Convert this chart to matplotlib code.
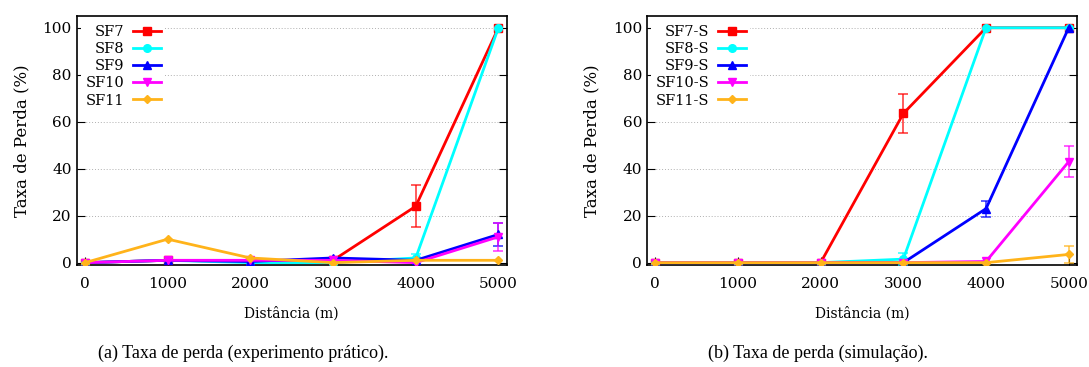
import matplotlib
matplotlib.use("Agg")
import matplotlib.pyplot as plt

# data
distancias = [0, 1000, 2000, 3000, 4000, 5000]

# (a) experimento pratico
sf7 = [0, 1, 0.5, 1, 24, 100]
sf8 = [0, 1, 0, 0, 2, 100]
sf9 = [0, 1, 0.5, 2, 1, 12]
sf10 = [0, 1, 1, 1, 0, 11]
sf11 = [0, 10, 2, 0, 1, 1]
sf7_err = [0, 0, 0, 0, 9, 0]
sf8_err = [0, 0, 0, 0, 1.5, 0]
sf9_err = [0, 0, 0, 0, 0, 5]
sf10_err = [0, 0, 0, 0, 0, 6]
sf11_err = [0, 0, 0, 0, 0, 0]

# (b) simulacao
sf7_s = [0, 0, 0, 63.5, 100, 100]
sf8_s = [0, 0, 0, 1.5, 100, 100]
sf9_s = [0, 0, 0, 0, 23, 100]
sf10_s = [0, 0, 0, 0, 0.5, 43]
sf11_s = [0, 0, 0, 0, 0, 3.5]
sf7_s_err = [0, 0, 0, 8.5, 0, 0]
sf8_s_err = [0, 0, 0, 2.5, 0, 0]
sf9_s_err = [0, 0, 0, 0, 3.4, 0]
sf10_s_err = [0, 0, 0, 0, 0, 6.7]
sf11_s_err = [0, 0, 0, 0, 0, 3.5]

cores = ["#ff0000", "#00ffff", "#0000ff", "#ff00ff", "#ffb31a"]
marcadores = ["s", "o", "^", "v", "D"]
tamanhos = [5.5, 5.5, 5.5, 5.5, 4.5]

yticks = [0, 20, 40, 60, 80, 100]

fig = plt.figure(figsize=(10.89, 3.67), dpi=100)
ax1 = fig.add_axes([76.7 / 1089, 1 - 265 / 367, 430 / 1089, 249 / 367])
ax2 = fig.add_axes([647 / 1089, 1 - 265 / 367, 430 / 1089, 249 / 367])


def desenha(ax, series, erros, nomes):
    for i, (ys, es, nome) in enumerate(zip(series, erros, nomes)):
        ax.plot(distancias, ys, color=cores[i], marker=marcadores[i],
                markersize=tamanhos[i], linewidth=2, label=nome, zorder=3 + i * 0.1)
        xs = [x for x, e in zip(distancias, es) if e > 0]
        yv = [y for y, e in zip(ys, es) if e > 0]
        ev = [e for e in es if e > 0]
        if xs:
            ax.errorbar(xs, yv, yerr=ev, fmt="none", ecolor=cores[i], alpha=0.75,
                        elinewidth=1.2, capsize=3.5, capthick=1.2, zorder=3)
    ax.set_xlim(-100, 5100)
    ax.set_ylim(-1, 105)
    ax.set_xticks(distancias)
    ax.set_yticks(yticks)
    for y in yticks[1:]:
        ax.axhline(y, color="#b0b0b0", linestyle=(0, (1, 2)), linewidth=0.7, zorder=1)
    ax.tick_params(axis="y", direction="in", length=6, right=True, labelsize=11)
    ax.tick_params(axis="x", direction="in", length=6, labelsize=11, pad=9)
    for lab in ax.get_xticklabels() + ax.get_yticklabels():
        lab.set_family("DejaVu Serif")
    for s in ax.spines.values():
        s.set_linewidth(1.2)
    ax.set_xlabel("Distância (m)", family="DejaVu Serif", fontsize=10, labelpad=11)
    ax.set_ylabel("Taxa de Perda (%)", family="DejaVu Serif", fontsize=12, labelpad=9)
    leg = ax.legend(loc="upper left", markerfirst=False, frameon=True,
                    prop={"family": "DejaVu Serif", "size": 10.5},
                    handlelength=1.9, handletextpad=0.6, labelspacing=0.22,
                    borderpad=0.3, borderaxespad=0.3, fancybox=False)
    leg.get_frame().set_facecolor("white")
    leg.get_frame().set_edgecolor("none")
    leg.get_frame().set_alpha(1)
    leg.set_zorder(2)


desenha(ax1, [sf7, sf8, sf9, sf10, sf11],
        [sf7_err, sf8_err, sf9_err, sf10_err, sf11_err],
        ["SF7", "SF8", "SF9", "SF10", "SF11"])
desenha(ax2, [sf7_s, sf8_s, sf9_s, sf10_s, sf11_s],
        [sf7_s_err, sf8_s_err, sf9_s_err, sf10_s_err, sf11_s_err],
        ["SF7-S", "SF8-S", "SF9-S", "SF10-S", "SF11-S"])

fig.text(243 / 1089, 1 - 353 / 367, "(a) Taxa de perda (experimento prático).",
         ha="center", va="center", family="Liberation Serif", fontsize=13)
fig.text(818 / 1089, 1 - 353 / 367, "(b) Taxa de perda (simulação).",
         ha="center", va="center", family="Liberation Serif", fontsize=13)

fig.savefig("out.png", dpi=100)
